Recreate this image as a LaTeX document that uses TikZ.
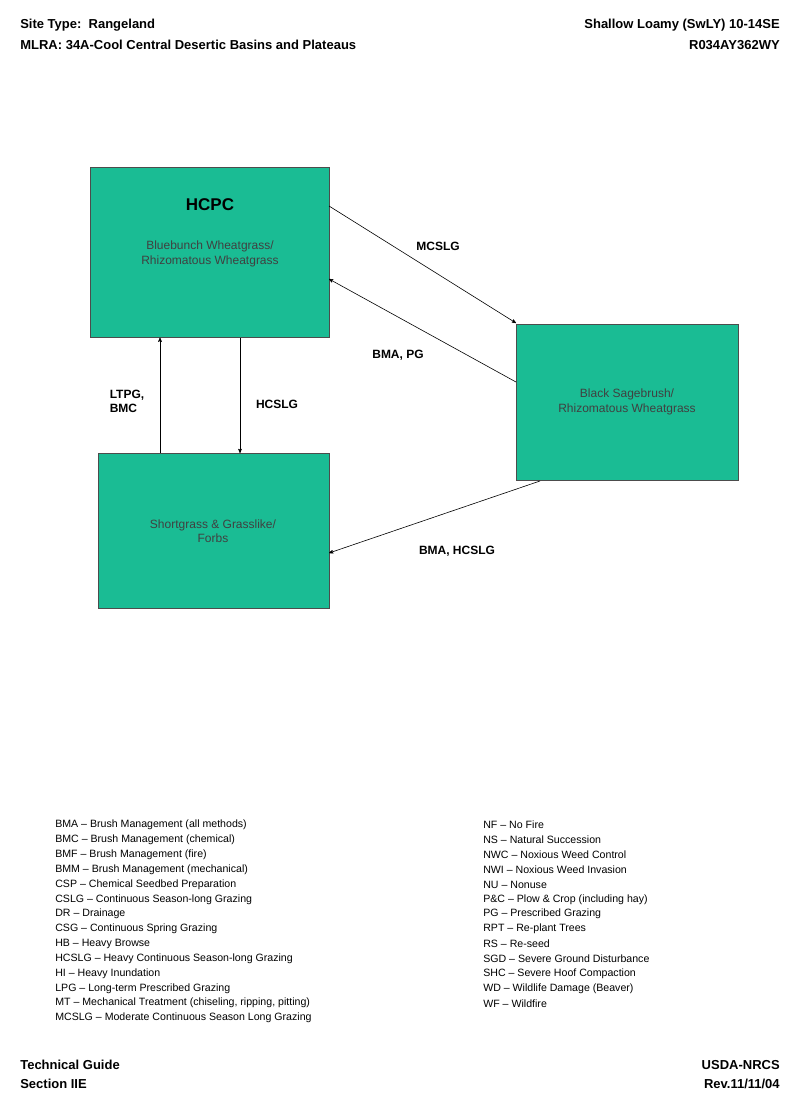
\documentclass[tikz,border=0pt]{standalone}
\usepackage{fontspec}
\setmainfont{Liberation Sans}
\usetikzlibrary{arrows}
\definecolor{stategreen}{RGB}{26,188,148}

\begin{document}
\begin{tikzpicture}[x=1pt,y=-1pt,>=stealth',semithick,
  statebox/.style={draw=black!70,fill=stategreen,anchor=north west,inner sep=0pt},
  stext/.style={font=\fontsize{12}{14.5}\selectfont,text=black!75,align=center},
  lab/.style={font=\bfseries\fontsize{12}{14}\selectfont,align=left},
  hdr/.style={font=\bfseries\fontsize{13}{15}\selectfont,inner sep=0pt},
  leg/.style={font=\fontsize{10.6}{12}\selectfont,anchor=west,inner sep=0pt}]

\useasboundingbox (0,0) rectangle (800,1108);

% header and footer
\node[hdr,anchor=west] (site) at (20,25) {Site Type:\ \ Rangeland};
\node[hdr,anchor=west] (mlra) at (20,45) {MLRA: 34A-Cool Central Desertic Basins and Plateaus};
\node[hdr,anchor=east] (eco) at (780,25) {Shallow Loamy (SwLY) 10-14SE};
\node[hdr,anchor=east] (ecoid) at (780,45) {R034AY362WY};
\node[hdr,anchor=west] (tg) at (20,1065) {Technical Guide};
\node[hdr,anchor=west] (sec) at (20,1084) {Section IIE};
\node[hdr,anchor=east] (nrcs) at (780,1065) {USDA-NRCS};
\node[hdr,anchor=east] (rev) at (780,1084) {Rev.11/11/04};

% states
\node[statebox,minimum width=239pt,minimum height=170pt] (A) at (90,167) {};
\node[font=\bfseries\fontsize{17}{20}\selectfont] (Atitle) at (210,205) {HCPC};
\node[stext] (Atext) at (210,254) {Bluebunch Wheatgrass/\\Rhizomatous Wheatgrass};
\node[statebox,minimum width=222pt,minimum height=156pt] (B) at (516,324) {};
\node[stext] (Btext) at (627,402) {Black Sagebrush/\\Rhizomatous Wheatgrass};
\node[statebox,minimum width=231pt,minimum height=155pt] (C) at (98,453) {};
\node[stext] (Ctext) at (213,531) {Shortgrass \& Grasslike/\\Forbs};

% transitions
\coordinate (a1) at (329,206); \coordinate (b1) at (516,323);
\coordinate (b2) at (516,382); \coordinate (a2) at (329,279);
\coordinate (b3) at (540,481); \coordinate (c3) at (329,553);
\draw[->] (a1) -- (b1);
\draw[->] (b2) -- (a2);
\draw[->] (b3) -- (c3);
\draw[->] (A.south west -| 240,0) ++(0,0) -- (C.north west -| 240,0);
\draw[->] (C.north west -| 160,0) -- (A.south west -| 160,0);

\node[lab] (l1) at (438,246) {MCSLG};
\node[lab] (l2) at (398,355) {BMA, PG};
\node[lab] (l3) at (127,401) {LTPG,\\BMC};
\node[lab] (l4) at (277,404) {HCSLG};
\node[lab] (l5) at (457,551) {BMA, HCSLG};

% legend
\foreach \t [count=\i from 0] in {BMA -- Brush Management (all methods),
  BMC -- Brush Management (chemical), BMF -- Brush Management (fire),
  BMM -- Brush Management (mechanical), CSP -- Chemical Seedbed Preparation,
  CSLG -- Continuous Season-long Grazing, DR -- Drainage,
  CSG -- Continuous Spring Grazing, HB -- Heavy Browse,
  HCSLG -- Heavy Continuous Season-long Grazing, HI -- Heavy Inundation,
  LPG -- Long-term Prescribed Grazing,
  {MT -- Mechanical Treatment (chiseling, ripping, pitting)},
  MCSLG -- Moderate Continuous Season Long Grazing}
  \node[leg] (legl\i) at (55,825+14.85*\i) {\t};
\foreach \t [count=\i from 0] in {NF -- No Fire, NS -- Natural Succession,
  NWC -- Noxious Weed Control, NWI -- Noxious Weed Invasion, NU -- Nonuse,
  P\&C -- Plow \& Crop (including hay), PG -- Prescribed Grazing,
  RPT -- Re-plant Trees, RS -- Re-seed, SGD -- Severe Ground Disturbance,
  SHC -- Severe Hoof Compaction, WD -- Wildlife Damage (Beaver), WF -- Wildfire}
  \node[leg] (legr\i) at (483,825+14.85*\i) {\t};
\end{tikzpicture}
\end{document}
